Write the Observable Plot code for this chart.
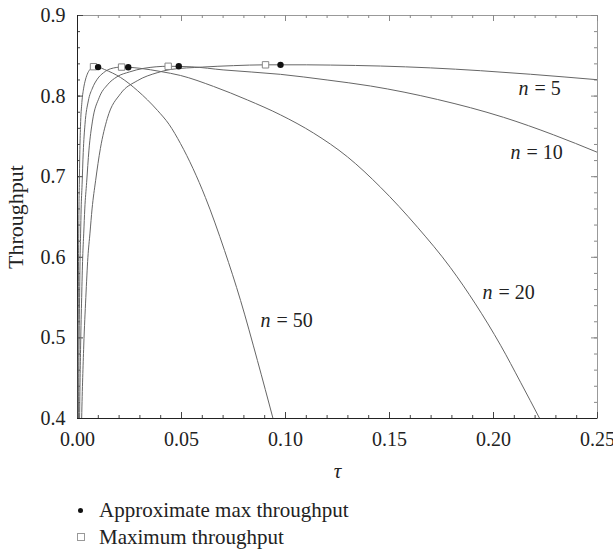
<!DOCTYPE html>
<html><head><meta charset="utf-8">
<script src="https://cdn.jsdelivr.net/npm/d3@7"></script>
<script src="https://cdn.jsdelivr.net/npm/@observablehq/plot@0.6"></script>
<style>
body{margin:0;background:#fff;font-family:"Liberation Serif","DejaVu Serif",serif;}
#legend{position:relative;height:62px;font-size:21px;color:#222;}
.row{position:absolute;left:0;height:26px;line-height:26px;}
.mk{position:absolute;}
.tx{position:absolute;left:99px;white-space:nowrap;}
</style></head><body><div id="chart"></div><div id="legend"></div>
<script>
// ---- data ----
const nValues = [5, 10, 20, 50];
const tau5 = [0,0.001,0.002,0.003,0.004,0.005,0.006,0.007,0.0087,0.011,0.0143,0.0207,0.0287,0.0383,0.0447,0.06,0.075,0.0904,0.11,0.1216,0.1457,0.1697,0.1938,0.2178,0.25];
const s5   = [0,0.25,0.40,0.49,0.55,0.60,0.63,0.66,0.695,0.735,0.772,0.803,0.819,0.829,0.833,0.836,0.8378,0.8388,0.8388,0.8385,0.8373,0.835,0.8315,0.8271,0.8203];
const tau10 = [0,0.0005,0.001,0.0015,0.002,0.0025,0.003,0.0035,0.0044,0.0055,0.0072,0.0104,0.0144,0.019,0.025,0.032,0.0436,0.055,0.07,0.0976,0.12,0.1409,0.1731,0.2048,0.2288,0.25];
const s10   = [0,0.25,0.40,0.49,0.55,0.60,0.63,0.66,0.693,0.733,0.769,0.798,0.814,0.824,0.830,0.8345,0.837,0.8363,0.8325,0.827,0.820,0.8125,0.7958,0.7737,0.752,0.7302];
const tau20 = [0,0.00025,0.0005,0.00075,0.001,0.00125,0.0015,0.00175,0.0022,0.00275,0.0036,0.0052,0.0072,0.0095,0.0125,0.016,0.0212,0.0244,0.03,0.04,0.0495,0.0654,0.0817,0.0976,0.1135,0.1298,0.1457,0.1635,0.1793,0.1913,0.2034,0.213,0.2222];
const s20   = [0,0.25,0.40,0.49,0.55,0.60,0.63,0.66,0.69,0.73,0.765,0.794,0.81,0.821,0.829,0.834,0.836,0.8358,0.8345,0.8305,0.8256,0.812,0.7952,0.7767,0.7541,0.7246,0.6869,0.6372,0.5872,0.5422,0.4909,0.445,0.40];
const tau50 = [0,0.0001,0.0002,0.0003,0.0004,0.0005,0.0006,0.0007,0.00087,0.0011,0.00143,0.0021,0.0029,0.0038,0.005,0.0064,0.0077,0.0099,0.013,0.0207,0.0288,0.0385,0.044,0.0495,0.0615,0.0707,0.0784,0.0865,0.094];
const s50   = [0,0.25,0.40,0.49,0.55,0.60,0.63,0.66,0.69,0.728,0.762,0.792,0.809,0.82,0.829,0.834,0.8365,0.836,0.833,0.8231,0.8069,0.7821,0.765,0.7412,0.6742,0.6084,0.5464,0.4720,0.40];
// maxima
const maxTau    = [0.0904, 0.0436, 0.0212, 0.0077];
const maxS      = [0.8388, 0.837, 0.836, 0.8365];
const approxTau = [0.0976, 0.0487, 0.0244, 0.0099];
const approxS   = [0.8388, 0.837, 0.8358, 0.836];
// curve labels
const labelTau = [0.212, 0.2082, 0.1947, 0.088];
const labelS   = [0.8094, 0.730, 0.5563, 0.5216];
const labelRest = ["= 5", "= 10", "= 20", "= 50"];
// axes
const xTicks = [0, 0.05, 0.10, 0.15, 0.20, 0.25];
const yTicks = [0.4, 0.5, 0.6, 0.7, 0.8, 0.9];
const xMinor = d3.range(0, 0.2501, 0.01);
const yMinor = d3.range(0.4, 0.9001, 0.02);

// ---- build tables ----
const taus = [tau5, tau10, tau20, tau50], ss = [s5, s10, s20, s50];
const curves = nValues.flatMap((n, i) => taus[i].map((t, j) => ({n, tau: t, s: ss[i][j]})));
const maxima = nValues.map((n, i) => ({n, tau: maxTau[i], s: maxS[i]}));
const approx = nValues.map((n, i) => ({n, tau: approxTau[i], s: approxS[i]}));
const labels = nValues.map((n, i) => ({n, tau: labelTau[i], s: labelS[i], rest: labelRest[i]}));

const W = 613, H = 490, mL = 77, mR = 16, mT = 15, mB = 72;
const innerW = W - mL - mR, innerH = H - mT - mB;
const tickCol = "#444";
const font = "'Liberation Serif','DejaVu Serif',serif";

const chart = Plot.plot({
  width: W, height: H,
  marginLeft: mL, marginRight: mR, marginTop: mT, marginBottom: mB,
  style: {fontFamily: font, fontSize: "20px", color: "#222", background: "#fff", overflow: "visible"},
  x: {domain: [0, 0.25]},
  y: {domain: [0.4, 0.9]},
  marks: [
    Plot.frame({stroke: "#999", strokeWidth: 1}),
    // minor & major inward ticks
    Plot.tickX(xMinor, {x: d => d, insetTop: innerH - 3, stroke: tickCol}),
    Plot.tickX(xMinor, {x: d => d, insetBottom: innerH - 3, stroke: "#888"}),
    Plot.tickX(xTicks, {x: d => d, insetTop: innerH - 6, stroke: tickCol}),
    Plot.tickX(xTicks, {x: d => d, insetBottom: innerH - 6, stroke: "#888"}),
    Plot.tickY(yMinor, {y: d => d, insetRight: innerW - 3, stroke: tickCol}),
    Plot.tickY(yMinor, {y: d => d, insetLeft: innerW - 3, stroke: "#888"}),
    Plot.tickY(yTicks, {y: d => d, insetRight: innerW - 6, stroke: tickCol}),
    Plot.tickY(yTicks, {y: d => d, insetLeft: innerW - 6, stroke: "#888"}),
    Plot.axisX({ticks: xTicks, tickSize: 0, tickPadding: 13, tickFormat: d3.format(".2f"), label: null, fontSize: 20}),
    Plot.axisY({ticks: yTicks, tickSize: 0, tickPadding: 12, tickFormat: d3.format(".1f"), label: null, fontSize: 20}),
    Plot.ruleX([0], {stroke: "#222"}),
    Plot.ruleY([0.4], {stroke: "#222"}),
    Plot.line(curves, {x: "tau", y: "s", z: "n", curve: "monotone-x", stroke: "#666", strokeWidth: 1, clip: true}),
    Plot.dot(maxima, {x: "tau", y: "s", symbol: "square", r: 3.6, stroke: "#888", fill: "#fff", strokeWidth: 1}),
    Plot.dot(approx, {x: "tau", y: "s", r: 3.2, fill: "#111", stroke: "none"}),
    Plot.text(labels, {x: "tau", y: "s", text: () => "n", textAnchor: "start", fontStyle: "italic", fontSize: 20, fill: "#222"}),
    Plot.text(labels, {x: "tau", y: "s", text: "rest", textAnchor: "start", dx: 16, fontSize: 20, fill: "#222"}),
    Plot.text(["Throughput"], {frameAnchor: "left", rotate: -90, dx: -62, fontSize: 22, fill: "#222", textAnchor: "middle"}),
    Plot.text(["τ"], {frameAnchor: "bottom", dy: 59, fontSize: 21, fontStyle: "italic", fill: "#222"})
  ]
});
document.getElementById("chart").appendChild(chart);

const legendItems = [
  {label: "Approximate max throughput", kind: "dot"},
  {label: "Maximum throughput", kind: "square"}
];
const lg = document.getElementById("legend");
legendItems.forEach((it, i) => {
  const row = document.createElement("div");
  row.className = "row";
  row.style.top = (7 + i * 27) + "px";
  row.style.width = "613px";
  const mk = document.createElement("span");
  mk.className = "mk";
  if (it.kind === "dot") {
    Object.assign(mk.style, {left: "78px", top: "11px", width: "5px", height: "5px", borderRadius: "50%", background: "#111"});
  } else {
    Object.assign(mk.style, {left: "77px", top: "9px", width: "6px", height: "6px", border: "1px solid #999", background: "#fff"});
  }
  const tx = document.createElement("span");
  tx.className = "tx";
  tx.textContent = it.label;
  row.appendChild(mk); row.appendChild(tx);
  lg.appendChild(row);
});
</script></body></html>
